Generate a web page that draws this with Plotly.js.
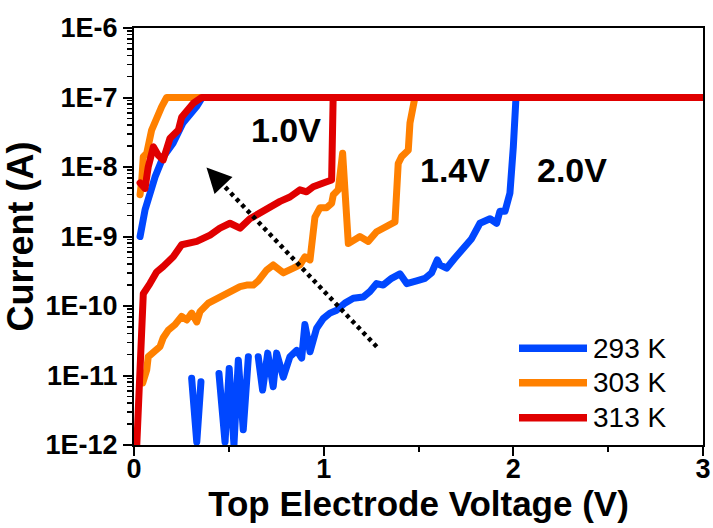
<!DOCTYPE html>
<html>
<head>
<meta charset="utf-8">
<script src="https://cdn.plot.ly/plotly-3.0.1.min.js"></script>
<style>html,body{margin:0;padding:0;background:#fff;}#chart{width:713px;height:528px;}
#chart .js-line{stroke-linejoin:round;stroke-linecap:round;}</style>
</head>
<body>
<div id="chart"></div>
<script>
// ---- data (voltage in V, current in A), in sweep order ----
const seriesNames = ['293 K', '303 K', '313 K'];
const seriesColors = ['#0047FF', '#FF8000', '#E00000'];

const V293 = [0.304, 0.331, 0.353, null, 0.448, 0.480, 0.502, 0.527, 0.550, 0.576, 0.603, null,
  0.655, 0.678, 0.705, 0.734, 0.752, 0.787, 0.822, 0.858, 0.884, 0.901, 0.928, 0.963, 0.998, 1.033,
  1.069, 1.112, 1.156, 1.209, 1.244, 1.279, 1.314, 1.358, 1.402, 1.438, 1.490, 1.534, 1.569, 1.599,
  1.613, 1.648, 1.692, 1.736, 1.780, 1.824, 1.877, 1.912, 1.929, 1.956, 1.982, 2.000, 2.014, 3.0,
  0.36, 0.33, 0.258, 0.206, 0.153, 0.111, 0.058, 0.032];
const I293 = [9.1e-12, 1.1e-12, 8.1e-12, null, 1.07e-11, 1.1e-12, 1.26e-11, 1.0e-12, 1.66e-11, 1.66e-12, 1.86e-11, null,
  1.86e-11, 6.2e-12, 2.1e-11, 6.9e-12, 2.1e-11, 9.5e-12, 1.86e-11, 2.3e-11, 1.78e-11, 5.4e-11, 2.2e-11, 4.8e-11, 6.6e-11, 7.9e-11,
  8.7e-11, 1.1e-10, 1.29e-10, 1.35e-10, 1.62e-10, 2.1e-10, 2.0e-10, 2.5e-10, 2.9e-10, 2.1e-10, 2.3e-10, 2.5e-10, 3.0e-10, 4.6e-10,
  3.9e-10, 3.5e-10, 4.9e-10, 6.8e-10, 9.3e-10, 1.55e-9, 1.8e-9, 1.55e-9, 2.3e-9, 2.3e-9, 4.2e-9, 1.95e-8, 1e-7, 1e-7,
  1e-7, 7.4e-8, 4.3e-8, 2.2e-8, 1.38e-8, 7.2e-9, 2.4e-9, 1.0e-9];

const V303 = [0.046, 0.067, 0.075, 0.111, 0.137, 0.154, 0.181, 0.216, 0.251, 0.278, 0.304, 0.331, 0.348,
  0.392, 0.453, 0.506, 0.559, 0.594, 0.629, 0.655, 0.700, 0.734, 0.787, 0.840, 0.875, 0.901, 0.928,
  0.954, 0.981, 1.016, 1.042, 1.051, 1.077, 1.100, 1.130, 1.191, 1.235, 1.279, 1.332, 1.376, 1.393,
  1.411, 1.446, 1.455, 1.481, 3.0,
  0.172, 0.146, 0.120, 0.093, 0.067, 0.049, 0.041, 0.032];
const I303 = [7.8e-12, 1.2e-11, 1.86e-11, 2.2e-11, 2.6e-11, 3.5e-11, 4.5e-11, 5.4e-11, 7.1e-11, 6.3e-11, 7.9e-11, 5.9e-11, 8.3e-11,
  1.1e-10, 1.35e-10, 1.62e-10, 1.9e-10, 2.0e-10, 2.0e-10, 2.3e-10, 3.3e-10, 3.9e-10, 3.0e-10, 3.5e-10, 3.9e-10, 5.1e-10, 4.6e-10,
  1.9e-9, 2.6e-9, 2.6e-9, 3.0e-9, 4.0e-9, 4.7e-9, 1.58e-8, 7.9e-10, 1.0e-9, 8.5e-10, 1.17e-9, 1.38e-9, 1.62e-9, 1.12e-8,
  1.41e-8, 1.74e-8, 4.3e-8, 1e-7, 1e-7,
  1e-7, 7.4e-8, 5.2e-8, 3.4e-8, 1.58e-8, 1.41e-8, 6.5e-9, 4.0e-9];

const V313 = [0.014, 0.023, 0.032, 0.041, 0.049, 0.084, 0.120, 0.154, 0.207, 0.251, 0.331, 0.401, 0.453,
  0.506, 0.559, 0.611, 0.664, 0.717, 0.770, 0.822, 0.875, 0.910, 0.945, 0.998, 1.042, 1.050, 3.0,
  0.357, 0.313, 0.286, 0.251, 0.234, 0.190, 0.154, 0.128, 0.102, 0.075, 0.058, 0.032];
const I313 = [9e-13, 4.5e-12, 2.3e-11, 7.1e-11, 1.5e-10, 2.1e-10, 3.1e-10, 3.7e-10, 5.1e-10, 7.6e-10, 8.5e-10, 1.05e-9, 1.32e-9,
  1.55e-9, 1.32e-9, 1.8e-9, 2.2e-9, 2.75e-9, 3.2e-9, 3.7e-9, 4.7e-9, 4.4e-9, 5.2e-9, 5.9e-9, 6.5e-9, 1e-7, 1e-7,
  1e-7, 8.3e-8, 6.6e-8, 5.2e-8, 3.4e-8, 2.6e-8, 1.26e-8, 1.48e-8, 1.95e-8, 1.0e-8, 4.9e-9, 5.9e-9];

const yTickVals = [1e-12, 1e-11, 1e-10, 1e-9, 1e-8, 1e-7, 1e-6];
const yTickText = ['1E-12', '1E-11', '1E-10', '1E-9', '1E-8', '1E-7', '1E-6'];
const xTickVals = [0, 1, 2, 3];
const xTickText = ['0', '1', '2', '3'];

const labels = [
  {text: '1.0V', x: 0.80, y: -7.47},
  {text: '1.4V', x: 1.69, y: -8.04},
  {text: '2.0V', x: 2.31, y: -8.04}
];

// ---- drawing ----
const FONT = 'Liberation Sans, Arial, Helvetica, sans-serif';
const Vs = [V293, V303, V313];
const Is = [I293, I303, I313];

const traces = Vs.map((v, k) => ({
  type: 'scatter', mode: 'lines', name: seriesNames[k],
  x: v, y: Is[k], connectgaps: false,
  line: {color: seriesColors[k], width: 7},
  showlegend: false, hoverinfo: 'skip'
}));

// minor log ticks positions
const minorVals = [];
for (let e = -12; e < -6; e++) for (let m = 2; m <= 9; m++) minorVals.push(m * Math.pow(10, e));

// plot area in pixels: x 134..703, y 28..445
const L = 134, R = 703, T = 28, B = 445;
const px = x => (x - L) / (R - L);
const py = y => (B - y) / (B - T);

const shapes = [];
const annotations = labels.map(l => ({
  text: l.text, x: l.x, y: l.y, xref: 'x', yref: 'y', showarrow: false,
  font: {family: FONT, size: 34, color: '#000', weight: 'bold'}
}));

// dotted arrow
shapes.push({type: 'line', xref: 'paper', yref: 'paper',
  x0: px(376.7), y0: py(346.7), x1: px(217.5), y1: py(179),
  line: {color: '#000', width: 4.5, dash: '4px,4px'}});
annotations.push({text: '', xref: 'paper', yref: 'paper', x: px(206.5), y: py(167.5),
  ax: 15, ay: 15.8, showarrow: true, arrowhead: 2, arrowsize: 1.1, arrowwidth: 4.5, arrowcolor: '#000'});

// legend (drawn)
const legY = [348.3, 382.7, 417.7];
seriesNames.forEach((n, k) => {
  shapes.push({type: 'line', xref: 'paper', yref: 'paper',
    x0: px(519), x1: px(587), y0: py(legY[k]), y1: py(legY[k]),
    line: {color: seriesColors[k], width: 7.5}});
  annotations.push({text: n, xref: 'paper', yref: 'paper', x: px(591), y: py(legY[k]),
    xanchor: 'left', yanchor: 'middle', showarrow: false,
    font: {family: FONT, size: 28, color: '#000'}});
});

const layout = {
  width: 713, height: 528,
  margin: {l: L, r: 713 - R, t: T, b: 528 - B, pad: 0},
  paper_bgcolor: '#fff', plot_bgcolor: '#fff',
  showlegend: false,
  font: {family: FONT, color: '#000'},
  xaxis: {
    range: [0, 3], tickmode: 'array', tickvals: xTickVals, ticktext: xTickText,
    ticks: 'outside', ticklen: 9, tickwidth: 2, tickcolor: '#000',
    ticklabelstandoff: -10,
    minor: {tickmode: 'array', tickvals: [0.5, 1.5, 2.5], ticks: 'outside', ticklen: 5, tickwidth: 2, tickcolor: '#000'},
    showline: true, linewidth: 2, linecolor: '#000', mirror: true,
    showgrid: false, zeroline: false,
    tickfont: {family: FONT, size: 27, color: '#000', weight: 'bold'},
    title: {text: 'Top Electrode Voltage (V)', standoff: 2, font: {family: FONT, size: 35, color: '#000', weight: 'bold'}}
  },
  yaxis: {
    type: 'log', range: [-12, -6], tickmode: 'array', tickvals: yTickVals, ticktext: yTickText,
    ticks: 'outside', ticklen: 9, tickwidth: 2, tickcolor: '#000',
    minor: {tickmode: 'array', tickvals: minorVals, ticks: 'outside', ticklen: 5, tickwidth: 1.5, tickcolor: '#000'},
    showline: true, linewidth: 2, linecolor: '#000', mirror: true,
    showgrid: false, zeroline: false,
    tickfont: {family: FONT, size: 27, color: '#000', weight: 'bold'},
    title: {text: 'Current (A)', standoff: 4, font: {family: FONT, size: 36, color: '#000', weight: 'bold'}}
  },
  shapes: shapes,
  annotations: annotations
};

Plotly.newPlot('chart', traces, layout, {displayModeBar: false, staticPlot: true});
</script>
</body>
</html>
